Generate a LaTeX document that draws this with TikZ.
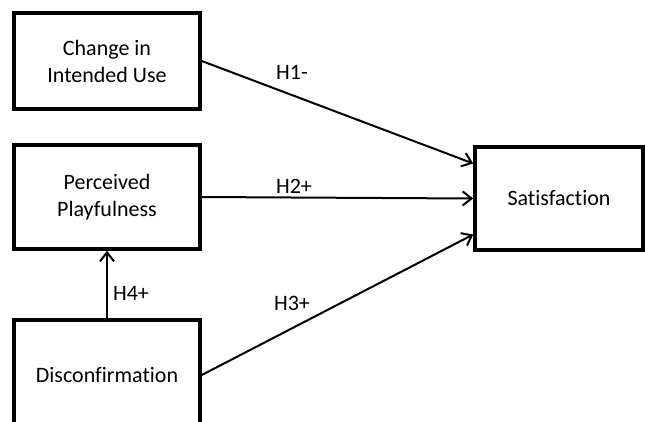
\documentclass[tikz,border=0pt]{standalone}
\usepackage{fontspec}
\setmainfont[Ligatures={NoCommon}]{Carlito}
\usepackage{tikz}
\usetikzlibrary{arrows.meta}
\tikzstyle{construct}=[rectangle, draw=black, line width=3.5pt, minimum width=186pt, text centered, align=center, font=\fontsize{22}{27}\selectfont]
\tikzstyle{hyp}=[font=\fontsize{22}{27}\selectfont]
\tikzstyle{arrow}=[line width=2pt, -{Straight Barb[length=9pt,width=14pt,line width=2pt]}]

\begin{document}
\begin{tikzpicture}[x=1pt, y=-1pt]
	\useasboundingbox (0,0) rectangle (645,421);

		\node[construct, minimum height=96pt] (ciu) at (107,61) {Change in\\Intended Use};
		\node[construct, minimum height=104pt] (pp) at (107,197) {Perceived\\Playfulness};
		\node[construct, minimum height=110pt] (dis) at (107,375) {Disconfirmation};
		\node[construct, minimum width=168pt, minimum height=103pt] (sat) at (559,198.5) {Satisfaction};

		\draw[arrow] (ciu.east) -- ([yshift=35pt]sat.west);
		\draw[arrow] (pp.east) -- (sat.west);
		\draw[arrow] (dis.east) -- ([yshift=-36pt]sat.west);
		\draw[arrow] (dis.north) -- (pp.south);

		\node[hyp] (h1) at (292,72) {H1-};
		\node[hyp] (h2) at (294,186) {H2+};
		\node[hyp] (h3) at (292,303) {H3+};
		\node[hyp] (h4) at (131,293) {H4+};
\end{tikzpicture}
\end{document}
